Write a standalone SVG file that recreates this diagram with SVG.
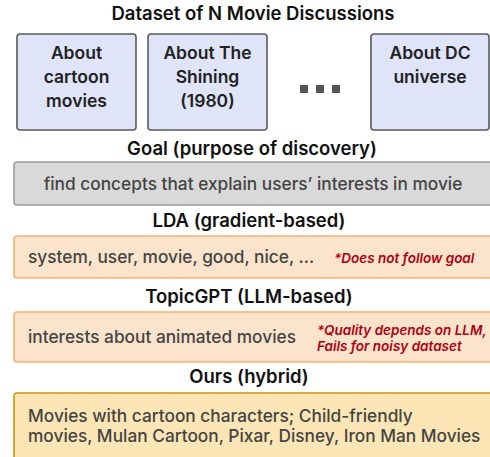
<svg xmlns="http://www.w3.org/2000/svg" width="490" height="457" viewBox="0 0 490 457">
<style>
.lbl{font-family:Inter,"Noto Sans",sans-serif;font-weight:600;font-size:18.5px;fill:#111;text-anchor:middle}
.node rect{fill:#dfe4f8;stroke:#5a5a5a;stroke-width:1.6}
.nt{font-family:Inter,"Noto Sans",sans-serif;font-weight:600;font-size:17.5px;fill:#222;text-anchor:middle}
.bt{font-family:Inter,"Noto Sans",sans-serif;font-weight:500;font-size:17.3px;fill:#444}
.red{font-family:Inter,"Noto Sans",sans-serif;font-weight:600;font-style:italic;font-size:13.5px;fill:#b00010}
</style>
<rect width="490" height="457" fill="#fff"/>
<text class="lbl" x="253" y="20">Dataset of N Movie Discussions</text>
<g id="node-cartoon" class="node">
<rect x="17" y="34" width="119" height="96" rx="3"/>
<text class="nt" x="76.5" y="59">About</text>
<text class="nt" x="76.5" y="83">cartoon</text>
<text class="nt" x="76.5" y="107">movies</text>
</g>
<g id="node-shining" class="node">
<rect x="148" y="34" width="119" height="96" rx="3"/>
<text class="nt" x="207.5" y="59">About The</text>
<text class="nt" x="207.5" y="83">Shining</text>
<text class="nt" x="207.5" y="107">(1980)</text>
</g>
<g id="ellipsis" fill="#555">
<rect x="300" y="85" width="8" height="8"/>
<rect x="316" y="85" width="8" height="8"/>
<rect x="332" y="85" width="8" height="8"/>
</g>
<g id="node-dc" class="node">
<rect x="371" y="34" width="118" height="96" rx="3"/>
<text class="nt" x="430" y="59">About DC</text>
<text class="nt" x="430" y="83">universe</text>
</g>
<text class="lbl" x="252" y="155">Goal (purpose of discovery)</text>
<g id="goal">
<rect x="14" y="162" width="490" height="43" rx="3" fill="#d9d9d9" stroke="#9a9a9a" stroke-width="1.6"/>
<text class="bt" x="253" y="190" text-anchor="middle">find concepts that explain users’ interests in movie</text>
</g>
<text class="lbl" x="249" y="227">LDA (gradient-based)</text>
<g id="lda">
<rect x="14" y="236" width="490" height="42" rx="3" fill="#fce4cc" stroke="#f5b06c" stroke-width="1.6"/>
<text class="bt" x="28" y="263">system, user, movie, good, nice, ...</text>
<text class="red" x="334" y="263">*Does not follow goal</text>
</g>
<text class="lbl" x="249" y="303">TopicGPT (LLM-based)</text>
<g id="topicgpt">
<rect x="14" y="312" width="490" height="50" rx="3" fill="#fce4cc" stroke="#f5b06c" stroke-width="1.6"/>
<text class="bt" x="28" y="343">interests about animated movies</text>
<text class="red" x="317" y="335">*Quality depends on LLM,</text>
<text class="red" x="317" y="351">Fails for noisy dataset</text>
</g>
<text class="lbl" x="249" y="383">Ours (hybrid)</text>
<g id="ours">
<rect x="14" y="393" width="490" height="80" rx="3" fill="#fde6b5" stroke="#c8950f" stroke-width="1.6"/>
<text class="bt" x="28" y="422">Movies with cartoon characters; Child-friendly</text>
<text class="bt" x="28" y="442">movies, Mulan Cartoon, Pixar, Disney, Iron Man Movies</text>
</g>
<g id="connectors"/>
</svg>
